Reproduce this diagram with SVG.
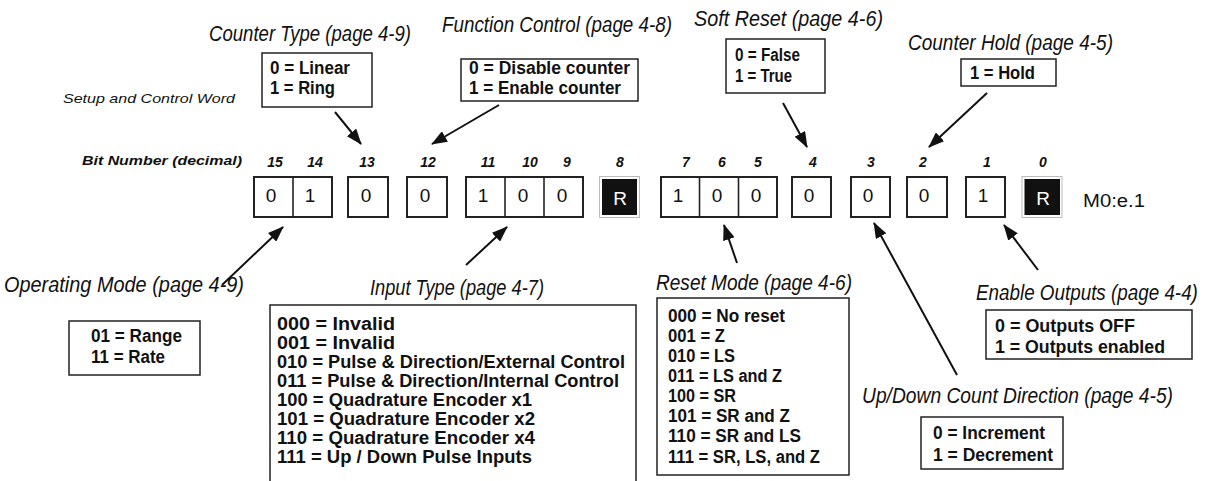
<svg xmlns="http://www.w3.org/2000/svg" width="1211" height="481" viewBox="0 0 1211 481">
<style>
.bg{fill:#fff}
.box{fill:#fff;stroke:#222;stroke-width:1.5}
.cell{fill:#fff;stroke:#222;stroke-width:2}
.div{stroke:#222;stroke-width:1.6}
.rout{fill:#fff;stroke:#bbb;stroke-width:1}
.rin{fill:#111}
.title{font-family:"Liberation Sans Narrow","Liberation Sans",Arial,sans-serif;font-style:italic;font-size:22px;fill:#111}
.bt{font-family:"Liberation Sans Narrow","Liberation Sans",Arial,sans-serif;font-weight:bold;font-size:18px;fill:#111}
.dig{font-family:"Liberation Sans",Arial,sans-serif;font-size:19px;fill:#111;text-anchor:middle}
.rd{font-family:"Liberation Sans",Arial,sans-serif;font-size:19px;fill:#fff;text-anchor:middle}
.bn{font-family:"Liberation Sans",Arial,sans-serif;font-weight:bold;font-style:italic;font-size:14px;fill:#111;text-anchor:middle}
.lbl{font-family:"Liberation Sans",Arial,sans-serif;font-style:italic;font-size:13.5px;fill:#111}
.lblb{font-family:"Liberation Sans",Arial,sans-serif;font-style:italic;font-weight:bold;font-size:13px;fill:#111}
.reg{font-family:"Liberation Sans",Arial,sans-serif;font-size:18px;fill:#111}
.conn line{stroke:#111;stroke-width:2;marker-end:url(#ah)}
</style>
<defs>
<marker id="ah" markerUnits="userSpaceOnUse" markerWidth="16" markerHeight="12" viewBox="0 0 16 12" refX="15" refY="6" orient="auto">
<path d="M0,0 L16,6 L0,12 Z" fill="#111"/>
</marker>
</defs>
<rect class="bg" x="0" y="0" width="1211" height="481"/>

<g id="labels">
<text class="lbl" x="63" y="103" textLength="172" lengthAdjust="spacingAndGlyphs">Setup and Control Word</text>
<text class="lblb" x="82" y="165" textLength="160" lengthAdjust="spacingAndGlyphs">Bit Number (decimal)</text>
<text class="reg" x="1083" y="207" textLength="62" lengthAdjust="spacingAndGlyphs">M0:e.1</text>
</g>

<g id="bit-numbers">
<text class="bn" x="275" y="167">15</text>
<text class="bn" x="315" y="167">14</text>
<text class="bn" x="367" y="167">13</text>
<text class="bn" x="428" y="167">12</text>
<text class="bn" x="488" y="167">11</text>
<text class="bn" x="530" y="167">10</text>
<text class="bn" x="567" y="167">9</text>
<text class="bn" x="620" y="167">8</text>
<text class="bn" x="686" y="167">7</text>
<text class="bn" x="722" y="167">6</text>
<text class="bn" x="758" y="167">5</text>
<text class="bn" x="813" y="167">4</text>
<text class="bn" x="871" y="167">3</text>
<text class="bn" x="923" y="167">2</text>
<text class="bn" x="987" y="167">1</text>
<text class="bn" x="1043" y="167">0</text>
</g>

<g id="bits-15-14">
<rect class="cell" x="254" y="177" width="78" height="40"/>
<line class="div" x1="293" y1="177" x2="293" y2="217"/>
<text class="dig" x="271" y="202">0</text>
<text class="dig" x="310" y="202">1</text>
</g>
<g id="bit-13">
<rect class="cell" x="348" y="177" width="40" height="40"/>
<text class="dig" x="366" y="202">0</text>
</g>
<g id="bit-12">
<rect class="cell" x="407" y="177" width="40" height="40"/>
<text class="dig" x="425" y="202">0</text>
</g>
<g id="bits-11-9">
<rect class="cell" x="466" y="177" width="117" height="40"/>
<line class="div" x1="505" y1="177" x2="505" y2="217"/>
<line class="div" x1="544" y1="177" x2="544" y2="217"/>
<text class="dig" x="483" y="202">1</text>
<text class="dig" x="523" y="202">0</text>
<text class="dig" x="562" y="202">0</text>
</g>
<g id="bit-8">
<rect class="rout" x="599.5" y="176.5" width="40" height="41"/>
<rect class="rin" x="602" y="179" width="35" height="36"/>
<text class="rd" x="620" y="205">R</text>
</g>
<g id="bits-7-5">
<rect class="cell" x="661" y="177" width="116" height="40"/>
<line class="div" x1="699.5" y1="177" x2="699.5" y2="217"/>
<line class="div" x1="738.5" y1="177" x2="738.5" y2="217"/>
<text class="dig" x="678" y="202">1</text>
<text class="dig" x="717" y="202">0</text>
<text class="dig" x="756" y="202">0</text>
</g>
<g id="bit-4">
<rect class="cell" x="792" y="177" width="39" height="40"/>
<text class="dig" x="809" y="202">0</text>
</g>
<g id="bit-3">
<rect class="cell" x="851" y="177" width="39" height="40"/>
<text class="dig" x="868" y="202">0</text>
</g>
<g id="bit-2">
<rect class="cell" x="907" y="177" width="40" height="40"/>
<text class="dig" x="924" y="202">0</text>
</g>
<g id="bit-1">
<rect class="cell" x="966" y="177" width="39" height="40"/>
<text class="dig" x="983" y="202">1</text>
</g>
<g id="bit-0">
<rect class="rout" x="1022" y="176.5" width="40" height="41"/>
<rect class="rin" x="1024.5" y="179" width="35.5" height="36"/>
<text class="rd" x="1043" y="205">R</text>
</g>

<g id="counter-type">
<text class="title" x="209" y="41" textLength="202" lengthAdjust="spacingAndGlyphs">Counter Type (page 4-9)</text>
<rect class="box" x="262" y="53" width="110" height="54"/>
<text class="bt" x="270" y="74" textLength="80" lengthAdjust="spacingAndGlyphs">0 = Linear</text>
<text class="bt" x="270" y="94" textLength="65" lengthAdjust="spacingAndGlyphs">1 = Ring</text>
</g>
<g id="function-control">
<text class="title" x="442" y="32" textLength="230" lengthAdjust="spacingAndGlyphs">Function Control (page 4-8)</text>
<rect class="box" x="461" y="59" width="177" height="42"/>
<text class="bt" x="469" y="74" textLength="161" lengthAdjust="spacingAndGlyphs">0 = Disable counter</text>
<text class="bt" x="469" y="94" textLength="152" lengthAdjust="spacingAndGlyphs">1 = Enable counter</text>
</g>
<g id="soft-reset">
<text class="title" x="694" y="26" textLength="189" lengthAdjust="spacingAndGlyphs">Soft Reset (page 4-6)</text>
<rect class="box" x="726" y="39" width="99" height="54"/>
<text class="bt" x="735" y="61" textLength="65" lengthAdjust="spacingAndGlyphs">0 = False</text>
<text class="bt" x="735" y="82" textLength="57" lengthAdjust="spacingAndGlyphs">1 = True</text>
</g>
<g id="counter-hold">
<text class="title" x="908" y="50" textLength="205" lengthAdjust="spacingAndGlyphs">Counter Hold (page 4-5)</text>
<rect class="box" x="961" y="59" width="95" height="27"/>
<text class="bt" x="970" y="79" textLength="65" lengthAdjust="spacingAndGlyphs">1 = Hold</text>
</g>
<g id="operating-mode">
<text class="title" x="4" y="292" textLength="240" lengthAdjust="spacingAndGlyphs">Operating Mode (page 4-9)</text>
<rect class="box" x="69" y="321" width="131" height="54"/>
<text class="bt" x="91" y="342" textLength="91" lengthAdjust="spacingAndGlyphs">01 = Range</text>
<text class="bt" x="91" y="363" textLength="74" lengthAdjust="spacingAndGlyphs">11 = Rate</text>
</g>
<g id="input-type">
<text class="title" x="370" y="295" textLength="174" lengthAdjust="spacingAndGlyphs">Input Type (page 4-7)</text>
<rect class="box" x="270" y="305" width="366" height="190"/>
<text class="bt" x="277" y="330" textLength="118" lengthAdjust="spacingAndGlyphs">000 = Invalid</text>
<text class="bt" x="277" y="349" textLength="118" lengthAdjust="spacingAndGlyphs">001 = Invalid</text>
<text class="bt" x="277" y="368" textLength="348" lengthAdjust="spacingAndGlyphs">010 = Pulse &amp; Direction/External Control</text>
<text class="bt" x="277" y="387" textLength="342" lengthAdjust="spacingAndGlyphs">011 = Pulse &amp; Direction/Internal Control</text>
<text class="bt" x="277" y="406" textLength="255" lengthAdjust="spacingAndGlyphs">100 = Quadrature Encoder x1</text>
<text class="bt" x="277" y="425" textLength="258" lengthAdjust="spacingAndGlyphs">101 = Quadrature Encoder x2</text>
<text class="bt" x="277" y="444" textLength="258" lengthAdjust="spacingAndGlyphs">110 = Quadrature Encoder x4</text>
<text class="bt" x="277" y="463" textLength="255" lengthAdjust="spacingAndGlyphs">111 = Up / Down Pulse Inputs</text>
</g>
<g id="reset-mode">
<text class="title" x="656" y="290" textLength="196" lengthAdjust="spacingAndGlyphs">Reset Mode (page 4-6)</text>
<rect class="box" x="657" y="298" width="192" height="177"/>
<text class="bt" x="668" y="322" textLength="117" lengthAdjust="spacingAndGlyphs">000 = No reset</text>
<text class="bt" x="668" y="342" textLength="57" lengthAdjust="spacingAndGlyphs">001 = Z</text>
<text class="bt" x="668" y="362" textLength="67" lengthAdjust="spacingAndGlyphs">010 = LS</text>
<text class="bt" x="668" y="382" textLength="114" lengthAdjust="spacingAndGlyphs">011 = LS and Z</text>
<text class="bt" x="668" y="402" textLength="68" lengthAdjust="spacingAndGlyphs">100 = SR</text>
<text class="bt" x="668" y="422" textLength="122" lengthAdjust="spacingAndGlyphs">101 = SR and Z</text>
<text class="bt" x="668" y="442" textLength="133" lengthAdjust="spacingAndGlyphs">110 = SR and LS</text>
<text class="bt" x="668" y="463" textLength="152" lengthAdjust="spacingAndGlyphs">111 = SR, LS, and Z</text>
</g>
<g id="enable-outputs">
<text class="title" transform="translate(976,300) scale(0.86,1)" x="0" y="0" textLength="258" lengthAdjust="spacingAndGlyphs">Enable Outputs (page 4-4)</text>
<rect class="box" x="986" y="310" width="206" height="49"/>
<text class="bt" x="995" y="332" textLength="140" lengthAdjust="spacingAndGlyphs">0 = Outputs OFF</text>
<text class="bt" x="995" y="353" textLength="170" lengthAdjust="spacingAndGlyphs">1 = Outputs enabled</text>
</g>
<g id="up-down">
<text class="title" transform="translate(862,403) scale(0.86,1)" x="0" y="0" textLength="361.6" lengthAdjust="spacingAndGlyphs">Up/Down Count Direction (page 4-5)</text>
<rect class="box" x="921" y="417" width="142" height="52"/>
<text class="bt" x="933" y="439" textLength="112" lengthAdjust="spacingAndGlyphs">0 = Increment</text>
<text class="bt" x="933" y="461" textLength="120" lengthAdjust="spacingAndGlyphs">1 = Decrement</text>
</g>

<g id="connectors" class="conn">
<line x1="335" y1="112" x2="361" y2="144"/>
<line x1="499" y1="105" x2="432" y2="144"/>
<line x1="783" y1="103" x2="807" y2="147"/>
<line x1="987" y1="93" x2="929" y2="147"/>
<line x1="222" y1="285" x2="283" y2="227"/>
<line x1="466" y1="265" x2="507" y2="227"/>
<line x1="737" y1="263" x2="724" y2="225"/>
<line x1="957" y1="375" x2="874" y2="223"/>
<line x1="1038" y1="270" x2="1004" y2="225"/>
</g>
</svg>
